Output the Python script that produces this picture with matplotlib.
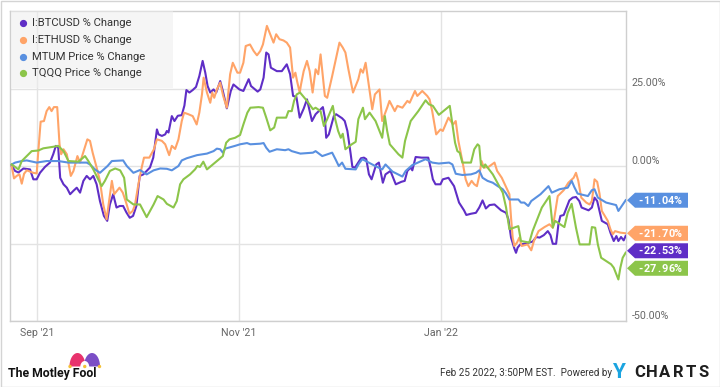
import matplotlib
matplotlib.use('Agg')
import matplotlib.pyplot as plt
import matplotlib.dates as mdates
import numpy as np
import pandas as pd
from matplotlib.patches import Polygon, Rectangle, Circle

plt.rcParams['font.family'] = ['Roboto', 'DejaVu Sans']

START = pd.Timestamp('2021-08-24')

# ---- data: days since START, percent change ----
btc_days = [0.35, 1.4, 2.4, 3.9, 5.9, 6.9, 7.9, 8.9, 10.4, 11.9,
            12.9, 13.7, 14.4, 15.0, 16.0, 17.0, 18.0, 19.0, 20.0, 21.0,
            22.0, 23.0, 24.0, 25.0, 26.0, 27.0, 28.2, 29.2, 30.0, 31.0,
            32.0, 33.0, 34.0, 35.0, 36.0, 37.0, 38.0, 39.0, 40.1, 41.1,
            42.1, 43.1, 44.2, 44.7, 45.7, 46.7, 47.2, 47.7, 48.7, 49.5,
            50.5, 51.7, 52.5, 53.1, 54.0, 55.0, 56.0, 57.0, 58.0, 58.8,
            59.5, 60.3, 61.3, 62.1, 63.3, 64.1, 65.3, 66.5, 67.3, 69.1,
            70.3, 71.9, 72.6, 74.6, 75.4, 76.4, 77.2, 77.9, 78.6, 80.4,
            81.9, 83.4, 84.4, 85.3, 86.3, 87.3, 88.5, 89.5, 91.0, 92.1,
            93.6, 94.3, 94.9, 95.3, 96.1, 97.6, 98.3, 100.1, 100.9, 101.7,
            102.7, 103.2, 104.0, 105.8, 106.7, 107.4, 108.2, 109.0, 110.4, 111.2,
            112.4, 113.2, 114.7, 116.3, 118.0, 119.0, 119.8, 120.8, 121.3, 122.3,
            124.1, 126.1, 126.8, 127.5, 128.3, 129.8, 130.5, 132.2, 133.9, 135.4,
            136.9, 137.6, 139.0, 140.5, 141.5, 142.5, 143.5, 144.6, 146.1, 148.1,
            149.6, 150.3, 151.1, 152.1, 152.6, 153.1, 153.9, 155.1, 157.6, 158.7,
            159.7, 161.0, 162.2, 163.0, 163.7, 164.7, 165.4, 166.0, 167.0, 168.7,
            169.7, 170.7, 171.7, 172.4, 174.5, 175.5, 176.3, 177.1, 177.8, 178.5,
            180.3, 181.1, 182.1, 182.9, 183.5, 184.3, 185.1, 185.7]
btc_pct = [0.0, -1.6, -2.1, -0.8, -1.1, -4.3, -4.3, -2.2, -0.3, 1.1,
           3.8, 6.5, 6.0, -3.8, -5.9, -7.0, -9.1, -8.0, -7.0, -8.6,
           -4.8, -3.2, -4.3, -3.2, -5.9, -11.3, -16.1, -17.7, -12.4, -9.1,
           -13.4, -12.9, -12.9, -15.0, -16.7, -16.1, -12.9, -3.2, -2.7, -1.6,
           -0.5, 2.7, 11.8, 10.2, 9.7, 10.2, 11.3, 10.8, 16.1, 14.5,
           16.2, 16.4, 19.5, 24.5, 23.7, 24.5, 25.5, 29.0, 33.9, 30.1,
           25.8, 23.7, 24.7, 23.7, 27.4, 24.2, 18.6, 24.2, 26.3, 24.7,
           24.2, 28.0, 25.8, 24.0, 24.7, 28.5, 36.6, 36.0, 31.7, 30.6,
           30.6, 32.8, 29.6, 22.6, 22.3, 15.6, 18.5, 21.5, 14.5, 16.7,
           18.3, 19.0, 15.6, 9.1, 10.2, 16.1, 16.7, 15.4, 14.5, 11.3,
           3.8, -0.3, -0.5, 2.5, 2.7, 2.2, -2.7, -4.3, 0.5, 1.1,
           -5.4, -2.7, -1.6, -5.9, -5.1, -4.8, -1.6, -0.5, -1.4, 2.9,
           2.7, 2.7, -0.5, -4.3, -5.9, -5.9, -4.3, -3.8, -6.5, -11.8,
           -14.3, -15.8, -15.4, -15.1, -13.4, -11.1, -13.7, -12.6, -12.4, -14.3,
           -15.1, -17.2, -23.1, -26.6, -28.0, -26.3, -25.3, -25.1, -24.4, -22.9,
           -23.1, -22.3, -21.0, -22.3, -25.1, -25.1, -18.8, -16.1, -15.8, -11.1,
           -10.2, -10.0, -11.3, -13.4, -14.3, -13.4, -10.2, -11.3, -14.5, -17.7,
           -18.8, -21.5, -24.2, -22.6, -24.2, -22.9, -24.0, -22.53]

eth_days = [0.35, 1.06, 1.86, 2.7, 3.4, 4.1, 4.9, 6.9, 7.9, 8.4,
            9.1, 10.1, 10.9, 11.7, 12.4, 13.1, 14.1, 14.8, 15.3, 16.0,
            17.0, 18.2, 19.0, 20.2, 21.0, 21.8, 23.2, 24.0, 24.8, 26.0,
            27.0, 28.0, 29.0, 29.9, 30.6, 31.3, 32.9, 33.9, 34.9, 35.9,
            36.9, 37.6, 38.6, 39.6, 40.3, 41.9, 43.3, 44.2, 45.7, 46.7,
            47.9, 48.7, 49.7, 50.7, 51.7, 52.4, 53.7, 55.0, 56.2, 57.0,
            57.8, 58.3, 59.3, 60.3, 60.9, 61.5, 62.3, 63.3, 64.2, 65.3,
            66.3, 67.1, 67.8, 68.5, 69.3, 70.3, 71.0, 72.3, 73.4, 74.4,
            75.4, 76.2, 77.4, 78.4, 79.4, 80.2, 81.2, 82.4, 83.4, 84.4,
            85.3, 86.0, 86.5, 87.3, 87.7, 88.5, 89.5, 90.3, 91.2, 92.1,
            92.9, 93.6, 94.9, 95.6, 97.1, 98.1, 99.3, 100.3, 101.1, 102.0,
            103.4, 105.0, 105.7, 106.4, 107.2, 108.4, 109.2, 110.0, 111.4, 112.2,
            113.7, 114.4, 116.0, 116.8, 118.3, 119.8, 120.5, 122.1, 122.8, 124.3,
            125.8, 126.5, 127.3, 128.5, 129.8, 130.5, 132.2, 133.6, 134.4, 135.2,
            136.6, 137.4, 138.2, 139.2, 140.0, 140.8, 141.5, 142.2, 142.9, 144.3,
            146.1, 146.9, 148.3, 149.9, 150.6, 151.1, 151.6, 152.1, 152.9, 153.6,
            154.3, 156.1, 157.2, 158.0, 159.4, 161.2, 162.7, 163.7, 165.2, 167.0,
            168.4, 170.0, 170.7, 171.4, 172.3, 173.8, 174.8, 175.5, 176.3, 177.1,
            177.8, 178.5, 180.3, 181.1, 181.8, 182.5, 184.1, 185.7]
eth_pct = [0.0, -4.0, -3.2, -2.7, -5.7, -2.5, -1.4, -2.2, -2.4, 4.8,
           14.3, 14.5, 17.7, 19.0, 17.7, 19.0, 19.0, 7.0, 3.8, 5.4,
           3.8, -3.2, -1.6, 3.2, 1.1, 3.8, 8.6, 8.1, 4.3, -0.5,
           -4.8, -12.4, -17.2, -10.2, -4.8, -9.1, -7.0, -8.6, -11.8, -15.4,
           -14.5, -12.4, -5.9, -0.5, 2.7, 2.7, 5.4, 8.6, 8.1, 7.0,
           3.5, 6.5, 5.5, 8.6, 14.5, 17.2, 16.7, 16.1, 13.4, 17.2,
           23.1, 28.5, 23.7, 20.4, 23.7, 22.0, 24.7, 26.9, 22.6, 18.8,
           29.6, 33.3, 31.7, 30.1, 30.1, 33.3, 38.7, 39.2, 37.1, 35.7,
           37.1, 39.2, 45.2, 42.5, 39.8, 42.5, 40.9, 40.5, 39.8, 38.2,
           28.5, 30.1, 27.4, 23.7, 26.3, 30.6, 33.9, 30.6, 23.7, 31.2,
           29.6, 36.0, 22.6, 22.0, 29.0, 33.9, 39.8, 38.2, 36.6, 31.2,
           23.7, 28.0, 31.2, 30.1, 33.3, 24.2, 18.3, 23.1, 24.7, 14.5,
           18.8, 21.0, 17.7, 19.4, 18.8, 21.0, 20.4, 24.2, 22.6, 24.2,
           22.6, 21.5, 17.7, 10.2, 11.8, 11.3, 15.6, 13.4, 14.5, 8.1,
           0.5, -4.3, -6.5, -4.8, -5.9, -6.5, -3.2, 1.6, -0.5, -0.3,
           1.1, -1.6, -3.8, -7.5, -9.1, -16.7, -23.1, -25.8, -24.7, -23.1,
           -25.8, -25.3, -27.2, -24.2, -21.0, -19.7, -18.8, -19.9, -9.7, -7.8,
           -5.4, -3.8, -2.2, -4.8, -10.2, -11.8, -12.4, -11.3, -4.3, -5.1,
           -8.9, -14.5, -17.7, -20.4, -22.0, -21.0, -21.5, -21.7]

mtum_days = [0.35, 1.4, 3.4, 4.9, 7.9, 10.9, 14.4, 17.5, 20.0, 23.0,
             24.0, 25.5, 27.0, 29.3, 30.6, 34.0, 35.1, 37.1, 39.1, 41.1,
             43.2, 45.2, 47.2, 48.7, 50.7, 51.7, 53.2, 56.3, 59.3, 61.3,
             62.3, 63.3, 64.1, 64.8, 67.8, 69.3, 71.4, 72.4, 75.4, 76.4,
             77.2, 78.2, 80.4, 82.9, 83.9, 84.9, 87.5, 91.3, 92.1, 94.1,
             97.1, 98.1, 99.1, 100.1, 101.1, 104.2, 105.2, 106.2, 109.2, 112.2,
             113.2, 115.3, 118.3, 119.3, 121.3, 125.3, 127.3, 129.3, 132.4, 133.4,
             134.4, 136.4, 139.0, 140.5, 141.5, 142.5, 144.0, 145.6, 147.1, 148.6,
             149.6, 150.6, 153.3, 154.1, 155.1, 156.3, 157.2, 160.0, 162.4, 163.4,
             165.7, 168.2, 169.4, 170.2, 171.2, 174.3, 175.5, 176.3, 177.3, 179.8,
             182.8, 183.5, 185.7]
mtum_pct = [0.5, 1.1, 1.6, 1.8, 1.1, 1.6, 1.6, 1.1, 1.1, 1.1,
            0.5, -1.1, -2.2, 0.0, 1.6, 1.8, 0.0, -2.2, -1.3, -2.7,
            -1.4, -0.8, -0.9, -1.4, 0.0, 1.8, 2.5, 3.5, 4.0, 4.8,
            5.6, 5.4, 4.3, 5.6, 6.5, 7.0, 7.4, 7.0, 7.2, 7.4,
            5.9, 4.6, 5.4, 5.1, 5.4, 4.8, 4.0, 4.3, 4.8, 3.2,
            4.3, 2.2, 0.0, 1.1, -0.9, -1.1, 0.8, 2.2, 0.5, -1.1,
            0.5, -1.8, -3.4, -1.6, 0.3, 2.2, 1.1, 0.8, 1.1, 0.5,
            -2.5, -2.9, -2.7, -2.2, -1.4, -3.8, -4.8, -5.4, -6.5, -7.5,
            -8.9, -10.8, -10.8, -11.8, -11.8, -12.9, -11.3, -9.1, -6.5, -8.6,
            -7.5, -7.0, -4.8, -6.8, -8.9, -9.7, -7.8, -7.5, -10.2, -11.8,
            -12.6, -14.5, -11.04]

tqqq_days = [0.35, 2.4, 3.4, 4.9, 6.4, 8.4, 9.9, 12.9, 14.4, 16.0,
             17.5, 20.5, 22.5, 23.5, 25.0, 26.5, 27.5, 28.5, 30.0, 31.6,
             33.1, 34.3, 35.1, 37.1, 39.1, 41.1, 43.2, 44.4, 46.2, 47.2,
             49.2, 50.2, 51.2, 52.2, 54.2, 55.7, 56.4, 57.2, 58.2, 59.3,
             62.3, 64.1, 65.1, 66.1, 67.8, 69.3, 70.3, 71.5, 72.4, 74.9,
             76.2, 77.2, 78.4, 79.6, 80.4, 83.2, 83.9, 84.9, 85.6, 86.4,
             87.4, 89.5, 91.3, 92.1, 93.6, 94.6, 95.6, 97.3, 97.9, 98.9,
             99.7, 100.3, 101.1, 103.0, 104.2, 105.0, 106.4, 107.0, 108.4, 110.2,
             112.2, 113.0, 113.7, 114.5, 117.1, 118.3, 119.1, 120.8, 123.1, 125.3,
             126.3, 127.5, 129.3, 132.6, 133.4, 134.2, 134.9, 135.6, 136.4, 139.0,
             140.0, 141.0, 141.5, 142.0, 142.9, 143.3, 145.6, 148.6, 149.6, 150.6,
             153.3, 154.1, 156.6, 157.6, 160.4, 162.7, 163.7, 164.4, 167.2, 168.2,
             169.4, 170.7, 171.8, 174.8, 175.5, 176.5, 177.3, 178.3, 181.3, 182.1,
             183.5, 184.1, 184.8, 185.7]
tqqq_pct = [0.5, -1.1, 1.6, 3.2, 4.8, 5.0, 5.7, 6.2, 6.5, 4.8,
            1.6, 1.4, 3.2, 1.6, -1.1, -4.3, -6.5, -4.8, -1.6, -0.8,
            -1.4, -3.8, -10.8, -12.4, -12.4, -16.5, -12.4, -9.7, -10.8, -12.2,
            -13.4, -11.3, -5.9, -4.3, -2.7, -1.1, 0.0, -0.3, 1.4, -1.1,
            1.6, 3.2, 7.5, 8.6, 9.1, 10.0, 13.4, 17.2, 18.8, 19.0,
            18.8, 15.6, 11.5, 12.4, 15.6, 15.6, 17.7, 17.7, 21.0, 23.1,
            23.7, 21.0, 18.3, 18.8, 17.7, 12.9, 15.1, 19.4, 15.6, 11.3,
            9.1, 10.4, 5.4, 7.0, 7.8, 15.1, 18.8, 15.1, 17.2, 14.5,
            9.1, 16.1, 11.3, 7.0, 3.8, 2.7, 8.1, 14.5, 17.7, 21.2,
            19.9, 19.4, 16.5, 19.4, 13.4, 7.5, 4.8, 4.3, 1.1, 1.1,
            5.4, 7.0, 6.5, 0.5, -0.5, 0.5, -2.7, -8.6, -13.4, -20.4,
            -19.4, -24.2, -24.7, -21.0, -13.4, -9.7, -19.9, -17.7, -19.7, -15.1,
            -12.2, -19.9, -25.3, -25.3, -19.7, -19.9, -25.3, -29.6, -31.7, -32.8,
            -36.6, -32.8, -29.6, -27.96]

series_names = ['I:BTCUSD % Change', 'I:ETHUSD % Change',
                'MTUM Price % Change', 'TQQQ Price % Change']
series_days = [btc_days, eth_days, mtum_days, tqqq_days]
series_pct = [btc_pct, eth_pct, mtum_pct, tqqq_pct]
series_colors = ['#5f2ec6', '#ffa468', '#5990e0', '#8cc54a']

xtick_dates = ['2021-09-01', '2021-11-01', '2022-01-01']
xtick_labels = ["Sep '21", "Nov '21", "Jan '22"]
ytick_vals = [-50, -25, 0, 25]
ytick_labels = ['-50.00%', '', '0.00%', '25.00%']

# ---- figure ----
W, H = 720, 387
fig = plt.figure(figsize=(W / 100, H / 100), dpi=100)
fig.patch.set_facecolor('white')
ax = fig.add_axes([10 / W, 1 - 321 / H, 616 / W, 310 / H])

for d, p, c, n in zip(series_days, series_pct, series_colors, series_names):
    x = START + pd.to_timedelta(np.asarray(d, dtype=float), unit='D')
    ax.plot(x, p, color=c, lw=1.5, label=n, solid_joinstyle='round', zorder=3)

ax.set_xlim(START + pd.Timedelta(days=-0.15), START + pd.Timedelta(days=185.8))
ax.set_ylim(-50, 50)

ax.set_xticks(pd.to_datetime(xtick_dates))
ax.set_xticklabels(xtick_labels, color='#666666', fontsize=7.7)
ax.tick_params(axis='x', length=0, pad=5)

ax.yaxis.tick_right()
ax.set_yticks(ytick_vals)
ax.set_yticklabels(ytick_labels, color='#666666', fontsize=7.7, va='bottom')
ax.tick_params(axis='y', length=0, pad=4)

ax.grid(True, color='#e3e3e3', lw=1, zorder=0)
for s in ax.spines.values():
    s.set_color('#cfcfcf')
    s.set_linewidth(1)

# ---- overlay in pixel coordinates ----
ov = fig.add_axes([0, 0, 1, 1], zorder=5)
ov.set_xlim(0, W)
ov.set_ylim(H, 0)
ov.axis('off')

# legend
ov.add_patch(Rectangle((11, 10.5), 162, 77, facecolor='#eeeeee', alpha=0.55, lw=0))
for i, (n, c) in enumerate(zip(series_names, series_colors)):
    yy = 23.3 + i * 16.7
    ov.plot([23], [yy], marker='o', ms=4.2, color=c, mec=c)
    ov.text(32, yy, n, fontsize=8.1, color='#333333', va='center', ha='left')

# end value tags
last = []
for d, p, c in zip(series_days, series_pct, series_colors):
    xd = mdates.date2num(START + pd.Timedelta(days=d[-1]))
    ydisp = ax.transData.transform((xd, p[-1]))[1]
    last.append([H - ydisp, p[-1], c])
last.sort(key=lambda t: t[0])
prev = -1e9
for item in last:
    if item[0] < prev + 17.5:
        item[0] = prev + 17.5
    prev = item[0]
for yy, v, c in last:
    poly = Polygon([(627, yy), (635, yy - 7.5), (688, yy - 7.5), (688, yy + 7.5), (635, yy + 7.5)],
                   closed=True, facecolor=c, edgecolor='none')
    ov.add_patch(poly)
    s = f'{v:.2f}%'
    x0 = 637
    step = 43.5 / len(s)
    for k, ch in enumerate(s):
        ov.text(x0 + step * (k + 0.5), yy + 0.3, ch, color='white', fontsize=7.8,
                fontweight='bold', ha='center', va='center')

# footer
ov.text(8, 373.5, 'The Motley Fool', fontsize=8.8, fontweight='bold', color='#111111',
        ha='left', va='center')
t = np.linspace(0, np.pi, 30)
ov.add_patch(Polygon(np.c_[77.5 + 8 * np.cos(t), 366.5 - 13.5 * np.sin(t)], closed=True,
                     facecolor='#e8336d', edgecolor='none'))
ov.add_patch(Polygon(np.c_[92 + 8 * np.cos(t), 366.5 - 13.5 * np.sin(t)], closed=True,
                     facecolor='#7b4ec6', edgecolor='none'))
ov.add_patch(Polygon(np.c_[84.75 + 4.5 * np.cos(t), 367 - 6 * np.sin(t)], closed=True,
                     facecolor='white', edgecolor='none'))
for cx in (70, 84.75, 99.5):
    ov.add_patch(Circle((cx, 366.5), 1.7, facecolor='#f4c136', edgecolor='none'))

ov.text(612, 373, 'Feb 25 2022, 3:50PM EST.  Powered by', fontsize=7.1, color='#333333',
        ha='right', va='center')
ov.text(612.5, 372.5, 'Y', fontsize=15, fontweight='bold', color='#1ba4e0', ha='left', va='center')
for k, ch in enumerate('CHARTS'):
    ov.text(633 + 12.8 * (k + 0.5), 372.5, ch, fontsize=12, fontweight='bold', color='#1e1e1e',
            ha='center', va='center')

# outer border
ov.add_patch(Rectangle((0.5, 0.5), W - 1, H - 1, facecolor='none', edgecolor='#d4d4d4', lw=1))

fig.savefig('out.png', dpi=100)
